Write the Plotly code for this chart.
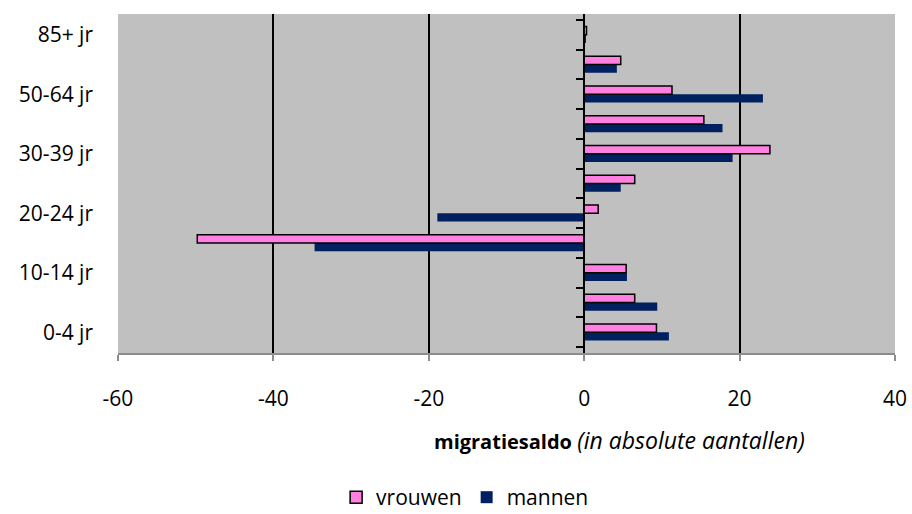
import plotly.graph_objects as go

AGE_GROUPS = ['0-4 jr', '5-9 jr', '10-14 jr', '15-19 jr', '20-24 jr', '25-29 jr',
              '30-39 jr', '40-49 jr', '50-64 jr', '65-84 jr', '85+ jr']
SHOWN_LABELS = ['0-4 jr', '10-14 jr', '20-24 jr', '30-39 jr', '50-64 jr', '85+ jr']
VROUWEN = [9.3, 6.5, 5.4, -49.8, 1.8, 6.5, 23.9, 15.4, 11.3, 4.7, 0.3]
MANNEN = [10.9, 9.4, 5.5, -34.7, -18.9, 4.7, 19.1, 17.8, 23.0, 4.2, 0.2]
X_TICKS = [-60, -40, -20, 0, 20, 40]

PINK = '#FF80E0'
NAVY = '#00205F'
FONT = 'Open Sans'

fig = go.Figure()
# mannen first so that vrouwen sits on top within each group
fig.add_trace(go.Bar(
    x=MANNEN, y=AGE_GROUPS, orientation='h', name='mannen',
    marker=dict(color=NAVY, line=dict(width=0)),
))
fig.add_trace(go.Bar(
    x=VROUWEN, y=AGE_GROUPS, orientation='h', name='vrouwen',
    marker=dict(color=PINK, line=dict(color='black', width=1.5)),
))
# invisible helper for the category axis drawn at x=0
fig.add_trace(go.Scatter(
    x=[0] * len(AGE_GROUPS), y=AGE_GROUPS, yaxis='y2', mode='markers',
    marker=dict(opacity=0), showlegend=False, hoverinfo='skip',
))

fig.update_layout(
    width=912, height=514,
    margin=dict(l=118, r=17, t=14, b=161),
    paper_bgcolor='white', plot_bgcolor='#C0C0C0',
    font=dict(family=FONT, size=21, color='black'),
    barmode='group', bargap=0.45, bargroupgap=0,
    xaxis=dict(
        range=[-60, 40], tickvals=X_TICKS, ticktext=[str(v) for v in X_TICKS],
        showgrid=True, gridcolor='black', gridwidth=2,
        zeroline=False, automargin=False,
        showline=True, linecolor='#8C8C8C', linewidth=2,
        ticks='outside', ticklen=6, tickcolor='#8C8C8C', tickwidth=2,
        ticklabelstandoff=20,
    ),
    yaxis=dict(
        type='category', categoryorder='array', categoryarray=AGE_GROUPS,
        tickvals=SHOWN_LABELS, ticks='', showgrid=False, zeroline=False,
        showline=False, ticklabelstandoff=24, automargin=False,
    ),
    yaxis2=dict(
        type='category', categoryorder='array', categoryarray=AGE_GROUPS,
        overlaying='y', matches='y', anchor='free', position=60 / 100,
        side='left', showticklabels=False, showgrid=False, zeroline=False,
        showline=True, linecolor='black', linewidth=2, automargin=False,
        ticks='outside', tickson='boundaries', ticklen=7, tickwidth=2, tickcolor='black',
    ),
    legend=dict(
        orientation='h', x=0.51, xref='container', xanchor='center',
        y=0.032, yref='container', yanchor='middle',
        traceorder='reversed', font=dict(size=21), itemwidth=30,
    ),
    showlegend=True,
)

fig.add_annotation(
    text='<b>migratiesaldo</b> <i><span style="font-size:23px">(in absolute aantallen)</span></i>',
    xref='paper', yref='paper', x=0.645, y=-0.257,
    xanchor='center', yanchor='middle', showarrow=False,
    font=dict(size=20),
)

fig.write_html('out.html', config={'displayModeBar': False},
               post_script="document.body.style.margin='0';")
